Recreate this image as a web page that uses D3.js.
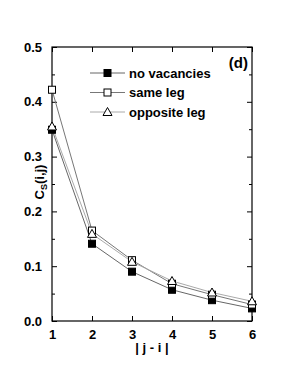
<!DOCTYPE html>
<html>
<head>
<meta charset="utf-8">
<script src="https://cdn.jsdelivr.net/npm/d3@7"></script>
<style>
  body { margin: 0; background: #fff; }
  text { font-family: "Liberation Sans", Arial, sans-serif; font-weight: bold; }
</style>
</head>
<body>
<svg id="chart"></svg>
<script>
// Data
const distances = [1, 2, 3, 4, 5, 6];
const noVacancies = [0.349, 0.141, 0.090, 0.057, 0.038, 0.023];
const sameLeg = [0.422, 0.165, 0.111, 0.068, 0.048, 0.030];
const oppositeLeg = [0.355, 0.159, 0.108, 0.073, 0.052, 0.036];
const yTicks = [0.0, 0.1, 0.2, 0.3, 0.4, 0.5];

const width = 294, height = 382;
const margin = { top: 47, right: 42, bottom: 61, left: 52 };

const svg = d3.select("#chart")
  .attr("width", width)
  .attr("height", height);

const x = d3.scaleLinear().domain([1, 6]).range([margin.left, width - margin.right]);
const y = d3.scaleLinear().domain([0, 0.5]).range([height - margin.bottom, margin.top]);

// Frame
svg.append("rect")
  .attr("x", x(1)).attr("y", y(0.5))
  .attr("width", x(6) - x(1)).attr("height", y(0) - y(0.5))
  .attr("fill", "none").attr("stroke", "#000").attr("stroke-width", 1.2);

// Axes with inward ticks
const yMinor = d3.range(0.05, 0.5, 0.1);
const axisLeft = d3.axisLeft(y).tickValues(yTicks).tickFormat(d3.format(".1f")).tickSize(-5).tickPadding(10);
const gl = svg.append("g").attr("transform", `translate(${x(1)},0)`).call(axisLeft);
gl.selectAll("line").attr("stroke", "#000");
gl.select(".domain").remove();
gl.selectAll("text").attr("font-size", 13).attr("fill", "#000")
  .style("font-family", "'Liberation Sans', Arial, sans-serif").style("font-weight", "bold");

svg.append("g").attr("transform", `translate(${x(1)},0)`)
  .call(d3.axisLeft(y).tickValues(yMinor).tickSize(-3).tickFormat(""))
  .call(g => g.select(".domain").remove());

svg.append("g").attr("transform", `translate(${x(6)},0)`)
  .call(d3.axisRight(y).tickValues(yTicks).tickSize(-5).tickFormat(""))
  .call(g => g.select(".domain").remove());
svg.append("g").attr("transform", `translate(${x(6)},0)`)
  .call(d3.axisRight(y).tickValues(yMinor).tickSize(-3).tickFormat(""))
  .call(g => g.select(".domain").remove());

const gb = svg.append("g").attr("transform", `translate(0,${y(0)})`)
  .call(d3.axisBottom(x).tickValues(distances).tickFormat(d3.format("d")).tickSize(-5).tickPadding(9));
gb.select(".domain").remove();
gb.selectAll("text").attr("font-size", 13).attr("fill", "#000")
  .style("font-family", "'Liberation Sans', Arial, sans-serif").style("font-weight", "bold");

svg.append("g").attr("transform", `translate(0,${y(0.5)})`)
  .call(d3.axisTop(x).tickValues(distances).tickSize(-5).tickFormat(""))
  .call(g => g.select(".domain").remove());

// Series
const series = [
  { name: "no vacancies", values: noVacancies, marker: "filled", color: "#666" },
  { name: "same leg", values: sameLeg, marker: "square", color: "#777" },
  { name: "opposite leg", values: oppositeLeg, marker: "triangle", color: "#aaa" }
];

const line = d3.line().x((d, i) => x(distances[i])).y(d => y(d));

function drawMarker(g, type, cx, cy) {
  if (type === "triangle") {
    g.append("path")
      .attr("d", `M${cx},${cy - 4.5}L${cx + 4.5},${cy + 3.5}L${cx - 4.5},${cy + 3.5}Z`)
      .attr("fill", "#fff").attr("stroke", "#000").attr("stroke-width", 1);
  } else {
    g.append("rect")
      .attr("x", cx - 3.5).attr("y", cy - 3.5).attr("width", 7).attr("height", 7)
      .attr("fill", type === "filled" ? "#000" : "#fff")
      .attr("stroke", "#000").attr("stroke-width", 1);
  }
}

series.forEach(s => {
  svg.append("path").datum(s.values)
    .attr("d", line).attr("fill", "none")
    .attr("stroke", s.color).attr("stroke-width", 1);
});
series.forEach(s => {
  const g = svg.append("g");
  s.values.forEach((v, i) => drawMarker(g, s.marker, x(distances[i]), y(v)));
});

// Legend
const legend = svg.append("g");
series.forEach((s, i) => {
  const ly = 73 + i * 19.5;
  legend.append("line").attr("x1", 90).attr("x2", 125).attr("y1", ly).attr("y2", ly)
    .attr("stroke", s.color).attr("stroke-width", 1);
  drawMarker(legend, s.marker, 107.5, ly);
  legend.append("text").attr("x", 129).attr("y", ly + 4.5)
    .attr("font-size", 13).text(s.name);
});

svg.append("text").attr("x", 248).attr("y", 68).attr("text-anchor", "end")
  .attr("font-size", 15).text("(d)");

// Axis titles
svg.append("text").attr("x", x(3.5)).attr("y", 352).attr("text-anchor", "middle")
  .attr("font-size", 13).text("| j - i |");

const yt = svg.append("text").attr("transform", `translate(44,${y(0.25) - 2}) rotate(-90)`)
  .attr("text-anchor", "middle").attr("font-size", 13);
yt.append("tspan").text("C");
yt.append("tspan").attr("font-size", 9).attr("dy", 3).text("S");
yt.append("tspan").attr("dy", -3).text("(i,j)");
</script>
</body>
</html>
